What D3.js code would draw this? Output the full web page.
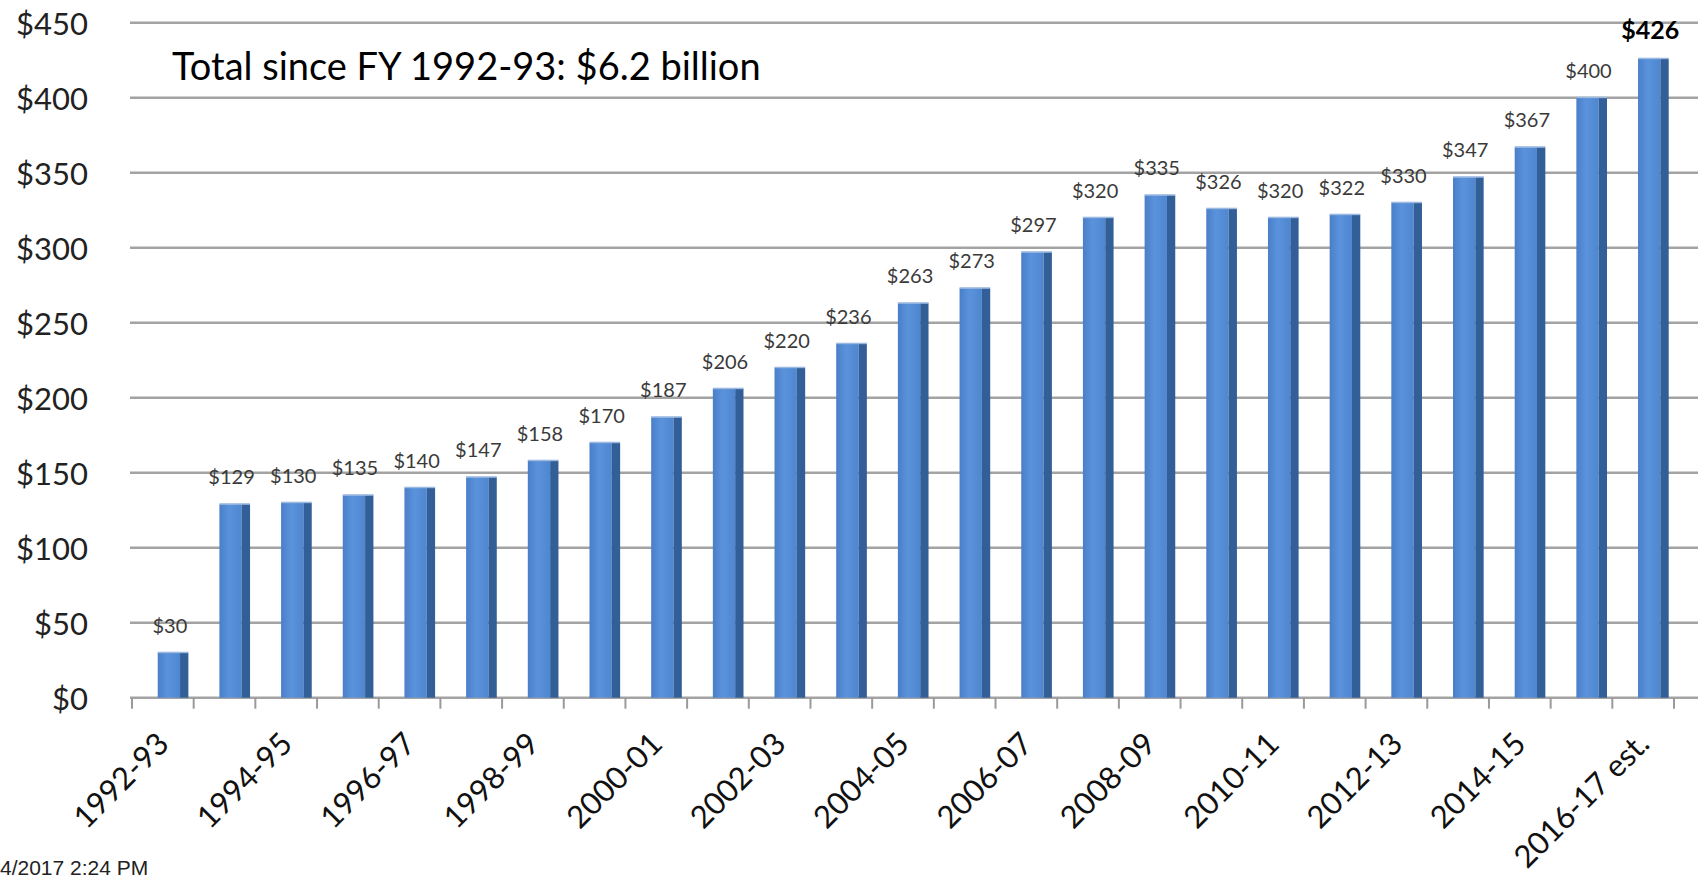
<!DOCTYPE html>
<html>
<head>
<meta charset="utf-8">
<script src="https://cdn.jsdelivr.net/npm/d3@7"></script>
<style>
  html, body { margin: 0; padding: 0; background: #fff; overflow: hidden; }
  svg { display: block; }
</style>
</head>
<body>
<svg id="chart" width="1704" height="880"></svg>
<script>
// ---- data ----
const categories = ["1992-93","1993-94","1994-95","1995-96","1996-97","1997-98","1998-99","1999-00",
  "2000-01","2001-02","2002-03","2003-04","2004-05","2005-06","2006-07","2007-08","2008-09",
  "2009-10","2010-11","2011-12","2012-13","2013-14","2014-15","2015-16","2016-17 est."];
const values = [30,129,130,135,140,147,158,170,187,206,220,236,263,273,297,320,335,326,320,322,330,347,367,400,426];
const valueLabels = ["$30","$129","$130","$135","$140","$147","$158","$170","$187","$206","$220","$236",
  "$263","$273","$297","$320","$335","$326","$320","$322","$330","$347","$367","$400","$426"];
const yTicks = [0,50,100,150,200,250,300,350,400,450];
const xTickLabels = ["1992-93","1994-95","1996-97","1998-99","2000-01","2002-03","2004-05",
  "2006-07","2008-09","2010-11","2012-13","2014-15","2016-17 est."];
const titleText = "Total since FY 1992-93: $6.2 billion";
const stampText = "4/2017 2:24 PM";

// ---- layout ----
const svg = d3.select("#chart");
const font = "Lato, 'Open Sans', sans-serif";
const y = d3.scaleLinear().domain([0, 450]).range([697.7, 22.7]);
const x = d3.scaleBand().domain(categories).range([132, 1674]).padding(0);
const bw = x.bandwidth();
const gridX0 = 130, gridX1 = 1698;

const defs = svg.append("defs");
const grad = defs.append("linearGradient").attr("id", "front").attr("x1", "0").attr("x2", "1").attr("y1", "0").attr("y2", "0");
grad.append("stop").attr("offset", "0%").attr("stop-color", "#4a7fc8");
grad.append("stop").attr("offset", "45%").attr("stop-color", "#5a93dc");
grad.append("stop").attr("offset", "100%").attr("stop-color", "#4e86d0");

// gridlines
svg.append("g").selectAll("line").data(yTicks).join("line")
  .attr("x1", gridX0).attr("x2", gridX1)
  .attr("y1", d => y(d)).attr("y2", d => y(d))
  .attr("stroke", "#a3a3a3").attr("stroke-width", 2.5);

// y axis labels
svg.append("g").selectAll("text").data(yTicks).join("text")
  .attr("x", 88).attr("y", d => y(d)).attr("dy", "0.41em")
  .attr("text-anchor", "end")
  .attr("font-family", font).attr("font-size", 31).attr("fill", "#222")
  .text(d => "$" + d);

// x ticks
const tickPos = categories.map(c => x(c)).concat([x(categories[categories.length-1]) + bw]);
svg.append("g").selectAll("line").data(tickPos).join("line")
  .attr("x1", d => d).attr("x2", d => d)
  .attr("y1", y(0)).attr("y2", y(0) + 11)
  .attr("stroke", "#9a9a9a").attr("stroke-width", 2);

// bars
const frontOff = 0.417 * bw, frontW = 0.362 * bw, sideW = 0.135 * bw;
const bars = svg.append("g").selectAll("g").data(categories).join("g");
bars.append("rect")
  .attr("x", c => x(c) + frontOff)
  .attr("y", (c, i) => y(values[i]))
  .attr("width", frontW)
  .attr("height", (c, i) => y(0) - y(values[i]))
  .attr("fill", "url(#front)");
bars.append("rect")
  .attr("x", c => x(c) + frontOff + frontW)
  .attr("y", (c, i) => y(values[i]))
  .attr("width", sideW)
  .attr("height", (c, i) => y(0) - y(values[i]))
  .attr("fill", "#335f98");
bars.append("rect")
  .attr("x", c => x(c) + frontOff)
  .attr("y", (c, i) => y(values[i]) - 1)
  .attr("width", frontW + sideW)
  .attr("height", 1.5)
  .attr("fill", "#9cb9e0");

// value labels
svg.append("g").selectAll("text").data(categories).join("text")
  .attr("x", c => x(c) + frontOff + frontW / 2 + 1)
  .attr("y", (c, i) => y(values[i]) - 20)
  .attr("text-anchor", "middle")
  .attr("font-family", font)
  .attr("font-size", (c, i) => i === categories.length - 1 ? 25 : 20)
  .attr("font-weight", (c, i) => i === categories.length - 1 ? 700 : 400)
  .attr("fill", (c, i) => i === categories.length - 1 ? "#000" : "#3a3a3a")
  .text((c, i) => valueLabels[i]);

// x axis labels (every other category)
svg.append("g").selectAll("text").data(xTickLabels).join("text")
  .attr("transform", d => `translate(${x(d) + bw / 2 + 8},${y(0) + 48}) rotate(-45)`)
  .attr("text-anchor", "end")
  .attr("font-family", font).attr("font-size", 31).attr("fill", "#111")
  .text(d => d);

// title
svg.append("text")
  .attr("x", 172).attr("y", 80)
  .attr("font-family", font).attr("font-size", 38).attr("fill", "#000")
  .text(titleText);

// timestamp
svg.append("text")
  .attr("x", 0).attr("y", 875)
  .attr("font-family", "'Liberation Sans', Arial, sans-serif").attr("font-size", 21).attr("fill", "#222")
  .text(stampText);
</script>
</body>
</html>
